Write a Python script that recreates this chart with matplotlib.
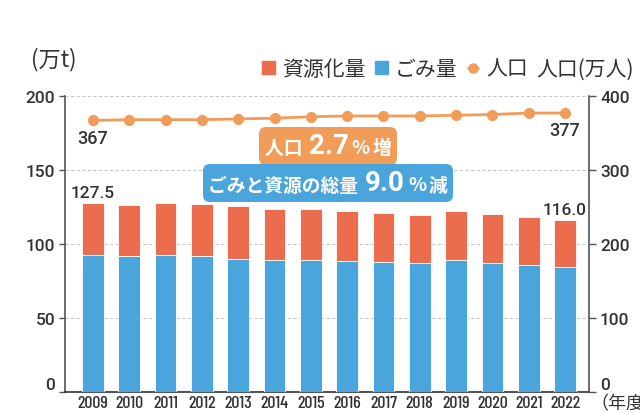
import matplotlib
matplotlib.use('Agg')
import matplotlib.pyplot as plt
from matplotlib.patches import Patch
from matplotlib.lines import Line2D
from matplotlib.offsetbox import TextArea, HPacker, AnnotationBbox

plt.rcParams['font.family'] = ['Noto Sans CJK JP', 'DejaVu Sans']

years = ['2009', '2010', '2011', '2012', '2013', '2014', '2015',
         '2016', '2017', '2018', '2019', '2020', '2021', '2022']
garbage = [92.7, 91.6, 92.7, 92.0, 90.2, 89.3, 89.3, 88.6, 88.0, 87.3, 89.5, 87.3, 85.9, 84.5]
recycled = [34.8, 34.8, 34.9, 35.0, 35.5, 34.3, 34.3, 33.7, 32.9, 32.0, 32.8, 32.9, 32.1, 31.5]
population = [367, 368, 368, 368, 369, 370, 372, 373, 373, 373, 374, 375, 377, 377]
total_labels = {0: '127.5', 13: '116.0'}
pop_labels = {0: '367', 13: '377'}
left_ticks = [0, 50, 100, 150, 200]
right_ticks = [0, 100, 200, 300, 400]

RED = '#EC6C4E'
BLUE = '#4BA5DD'
ORANGE = '#F19C58'
TXT = '#333333'
YEARF = ['Barlow Condensed', 'DejaVu Sans']
NUM = ['Roboto', 'DejaVu Sans']
CJK = ['Noto Sans CJK JP', 'DejaVu Sans']

fig = plt.figure(figsize=(6.4, 4.14), dpi=100)
ax = fig.add_axes([65/640, 1-393/414, (589-65)/640, (393-97)/414])
x = list(range(len(years)))

ax.bar(x, garbage, width=0.6, color=BLUE, edgecolor='white', linewidth=0.6, zorder=3)
ax.bar(x, recycled, width=0.6, bottom=garbage, color=RED, edgecolor='white', linewidth=0.6, zorder=3)
ax.set_xlim(-0.77, 13.66)
ax.set_ylim(0, 200)
ax.set_yticks(left_ticks)
ax.set_xticks(x)
ax.set_xticklabels(years, family=YEARF, fontsize=13, fontweight='medium', color=TXT)
ax.set_yticklabels([str(t) for t in left_ticks], family=NUM, fontsize=12.5,
                   fontweight='medium', color=TXT)
ax.tick_params(axis='x', length=0, pad=2)
ax.tick_params(axis='y', length=4, width=1, color='#555555', pad=3)
ax.get_yticklabels()[0].set_va('bottom')
for t in left_ticks[1:]:
    ax.axhline(t, color='#c8c8c8', linestyle=(0, (3, 2)), linewidth=0.8, zorder=1)
ax.spines['top'].set_visible(False)
ax.spines['right'].set_visible(False)
ax.spines['left'].set_color('#555555')
ax.spines['left'].set_linewidth(1.2)
ax.spines['bottom'].set_color('#333333')
ax.spines['bottom'].set_linewidth(1.2)

for i, s in total_labels.items():
    ax.text(i, garbage[i] + recycled[i] + 2.0, s, ha='center', va='bottom',
            family=NUM, fontsize=12.5, fontweight='medium', color=TXT, zorder=5)

ax2 = ax.twinx()
ax2.set_ylim(0, 400)
ax2.set_yticks(right_ticks)
ax2.set_yticklabels([str(t) for t in right_ticks], family=NUM, fontsize=12.5,
                    fontweight='medium', color=TXT)
ax2.tick_params(axis='y', length=5, width=1, color='#555555', pad=3)
ax2.get_yticklabels()[0].set_va('bottom')
for sp in ['top', 'left', 'bottom']:
    ax2.spines[sp].set_visible(False)
ax2.spines['right'].set_color('#555555')
ax2.spines['right'].set_linewidth(1.2)
ax2.plot(x, population, color=ORANGE, linewidth=2, marker='o', markersize=7, zorder=4)
for i, s in pop_labels.items():
    ax2.text(i, population[i] - 11, s, ha='center', va='top',
             family=NUM, fontsize=13, fontweight='medium', color=TXT)

# legend
handles = [Patch(color=RED), Patch(color=BLUE),
           Line2D([], [], color=ORANGE, linestyle=(0, (2.0, 1.4)), linewidth=2,
                  marker='o', markersize=6.5)]
fig.legend(handles, ['資源化量', 'ごみ量', '人口'], ncol=3, loc='center left',
           bbox_to_anchor=(252/640, 1-70/414), frameon=False, fontsize=15,
           handlelength=0.6, handleheight=0.6, handletextpad=0.35, columnspacing=0.45,
           labelcolor=TXT, borderpad=0)
fig.text(31/640, 1-60/414, '(万t)', ha='left', va='center', fontsize=16, color=TXT)
fig.text(634/640, 1-70/414, '人口(万人)', ha='right', va='center', fontsize=15, color=TXT)
fig.text(590/640, 1-404/414, '（年度）', ha='left', va='center', fontsize=13, color=TXT)

# annotation boxes
def badge(parts, xy, color):
    areas = [TextArea(t, textprops=dict(color='white', fontsize=fs, fontweight=fw,
                                        family=fam)) for t, fs, fw, fam in parts]
    pack = HPacker(children=areas, align='baseline', pad=0, sep=2)
    ab = AnnotationBbox(pack, xy, xycoords='figure pixels', frameon=True,
                        bboxprops=dict(boxstyle='round,pad=0.4,rounding_size=0.5',
                                       fc=color, ec='none'), zorder=6)
    fig.add_artist(ab)

badge([('人口 ', 13.5, 'bold', CJK), ('2.7', 20, 'bold', NUM),
       ('%', 13.5, 'bold', CJK), ('増', 13.5, 'bold', CJK)], (328, 414-147), ORANGE)
badge([('ごみと資源の総量 ', 13.5, 'bold', CJK), ('9.0', 20, 'bold', NUM),
       ('%', 13.5, 'bold', CJK), ('減', 13.5, 'bold', CJK)], (328, 414-184), BLUE)

fig.savefig('out.png', dpi=100)
